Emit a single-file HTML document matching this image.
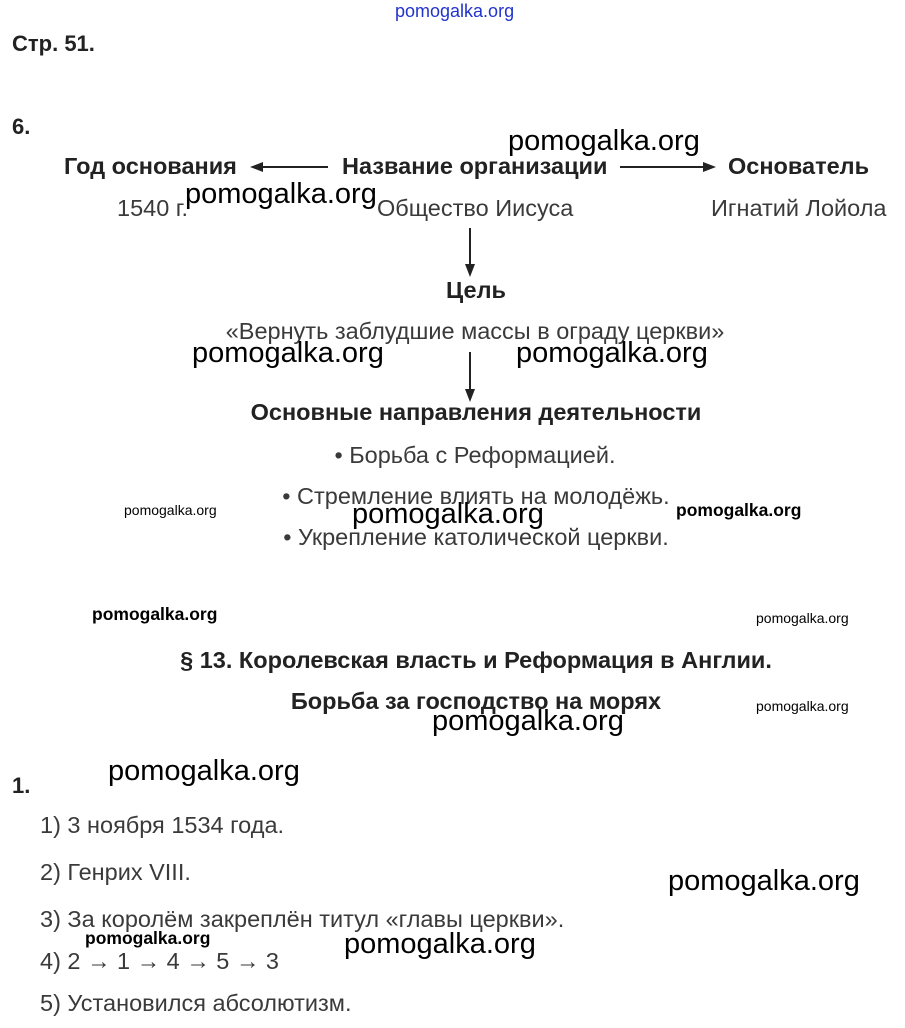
<!DOCTYPE html>
<html><head><meta charset="utf-8"><style>
body{margin:0;width:905px;height:1028px;background:#fff;position:relative;overflow:hidden;font-family:"Liberation Sans",Arial,sans-serif;color:#222}
div{position:absolute;white-space:nowrap;line-height:1}
.b{font-weight:bold;font-size:23.5px;color:#222}
.n{font-size:23.5px;color:#3a3a3a}
.w{font-size:29px;color:#000}
.ws{font-size:14px;color:#000}
.wm{font-size:17.5px;color:#000;font-weight:bold}
.c{transform:translateX(-50%)}
</style></head><body>
<div style="left:395px;top:2px;font-size:18px;color:#2233cc">pomogalka.org</div>
<div class="b" style="left:12px;top:33px;font-size:22px">Стр. 51.</div>
<div class="b" style="left:12px;top:116px;font-size:22px">6.</div>

<div class="w" style="left:508px;top:127px">pomogalka.org</div>
<div class="b" style="left:64px;top:155px">Год основания</div>
<div class="b" style="left:342px;top:155px">Название организации</div>
<div class="b" style="left:728px;top:155px">Основатель</div>

<svg style="position:absolute;left:0;top:0" width="905" height="1028">
<g stroke="#222" stroke-width="2" fill="#222">
<line x1="262" y1="167" x2="328" y2="167"/><polygon points="250,167 263,162 263,172" stroke="none"/>
<line x1="620" y1="167" x2="704" y2="167"/><polygon points="716,167 703,162 703,172" stroke="none"/>
<line x1="470" y1="228" x2="470" y2="265"/><polygon points="470,277 465,264 475,264" stroke="none"/>
<line x1="470" y1="352" x2="470" y2="390"/><polygon points="470,402 465,389 475,389" stroke="none"/>
</g></svg>

<div class="n" style="left:117px;top:197px">1540 г.</div>
<div class="w" style="left:185px;top:180px">pomogalka.org</div>
<div class="n" style="left:377px;top:197px">Общество Иисуса</div>
<div class="n" style="left:711px;top:197px">Игнатий Лойола</div>

<div class="b c" style="left:476px;top:279px">Цель</div>
<div class="n c" style="left:475px;top:320px">«Вернуть заблудшие массы в ограду церкви»</div>
<div class="w" style="left:192px;top:339px">pomogalka.org</div>
<div class="w" style="left:516px;top:339px">pomogalka.org</div>
<div class="b c" style="left:476px;top:401px">Основные направления деятельности</div>
<div class="n c" style="left:475px;top:444px">• Борьба с Реформацией.</div>
<div class="n c" style="left:476px;top:485px">• Стремление влиять на молодёжь.</div>
<div class="n c" style="left:476px;top:526px">• Укрепление католической церкви.</div>
<div class="ws" style="left:124px;top:503px">pomogalka.org</div>
<div class="w" style="left:352px;top:500px">pomogalka.org</div>
<div class="wm" style="left:676px;top:502px">pomogalka.org</div>

<div class="wm" style="left:92px;top:606px">pomogalka.org</div>
<div class="ws" style="left:756px;top:611px">pomogalka.org</div>
<div class="b c" style="left:476px;top:649px">§ 13. Королевская власть и Реформация в Англии.</div>
<div class="b c" style="left:476px;top:690px">Борьба за господство на морях</div>
<div class="ws" style="left:756px;top:699px">pomogalka.org</div>
<div class="w" style="left:432px;top:707px">pomogalka.org</div>

<div class="b" style="left:12px;top:775px;font-size:22px">1.</div>
<div class="w" style="left:108px;top:757px">pomogalka.org</div>
<div class="n" style="left:40px;top:814px">1) 3 ноября 1534 года.</div>
<div class="n" style="left:40px;top:861px">2) Генрих VIII.</div>
<div class="w" style="left:668px;top:867px">pomogalka.org</div>
<div class="n" style="left:40px;top:908px">3) За королём закреплён титул «главы церкви».</div>
<div class="wm" style="left:85px;top:930px">pomogalka.org</div>
<div class="w" style="left:344px;top:930px">pomogalka.org</div>
<div class="n" style="left:40px;top:950px">4) 2 → 1 → 4 → 5 → 3</div>
<div class="n" style="left:40px;top:992px">5) Установился абсолютизм.</div>
</body></html>
